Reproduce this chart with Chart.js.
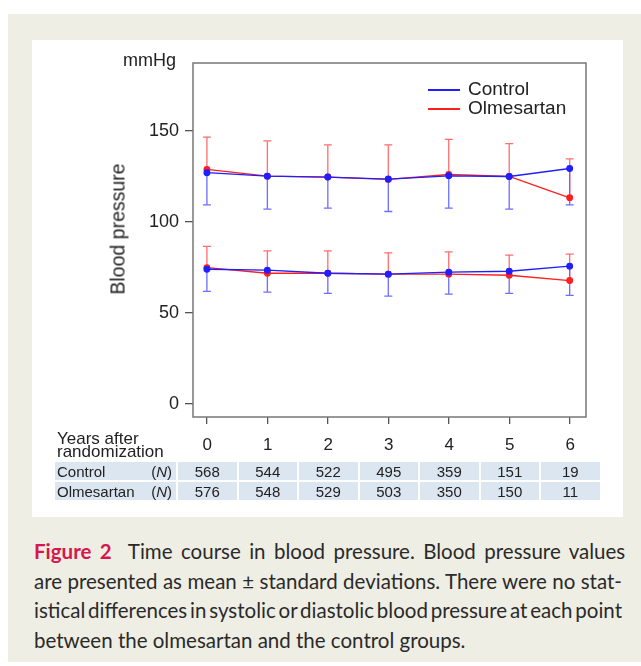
<!DOCTYPE html>
<html>
<head>
<meta charset="utf-8">
<script src="https://cdn.jsdelivr.net/npm/chart.js@4.4.1/dist/chart.umd.min.js"></script>
<style>
  body { margin: 0; background: #fff; width: 641px; height: 666px; overflow: hidden; position: relative; font-family: "Liberation Sans", Arial, sans-serif; }
  #panel { position: absolute; left: 8px; top: 14px; width: 633px; height: 648px; background: #efeee4; }
  #box { position: absolute; left: 32px; top: 40px; width: 591px; height: 477px; background: #fff; }
  #chartWrap { position: absolute; left: 32px; top: 40px; width: 591px; height: 395px; }
  .lbl { position: absolute; color: #222; white-space: nowrap; }
  #legend .row { position: absolute; left: 428px; height: 20px; }
  #legend .sw { position: absolute; left: 0; top: 9px; width: 32px; height: 2px; }
  #legend .tx { position: absolute; left: 40px; top: -2px; font-size: 19px; color: #222; }
  #ntable { position: absolute; left: 53px; top: 428px; border-collapse: separate; border-spacing: 2px; table-layout: fixed; color: #222; }
  #ntable td { padding: 0; height: 18px; font-size: 15px; text-align: center; }
  #ntable tr.d td { background: #dce6f1; }
  #ntable td.first { text-align: left; padding-left: 2px; }
  #ntable .n { float: right; padding-right: 4px; }
  #caption { position: absolute; left: 34px; top: 537px; width: 588px; font-family: Lato, "Open Sans", sans-serif; font-size: 20.5px; line-height: 29.5px; color: #2a2a2a; }
  #caption div { white-space: nowrap; }
  #caption b { color: #d6174d; font-weight: 700; }
</style>
</head>
<body>
<div id="panel"></div>
<div id="box"></div>
<div id="chartWrap"><canvas id="bpChart" width="591" height="395"></canvas></div>
<div class="lbl" style="left:123px; top:50px; font-size:18px;">mmHg</div>
<div class="lbl" style="left:118px; top:229px; font-size:19.5px; transform: translate(-50%,-50%) rotate(-90deg);">Blood pressure</div>
<div id="legend">
  <div class="row" style="top:80px;"><div class="sw" style="background:#1f1fff;"></div><div class="tx">Control</div></div>
  <div class="row" style="top:99px;"><div class="sw" style="background:#ff1f1f;"></div><div class="tx">Olmesartan</div></div>
</div>
<table id="ntable"></table>
<div id="caption">
  <div><span><b>Figure 2</b>&nbsp; Time course in blood pressure. Blood pressure values</span></div>
  <div><span>are presented as mean ± standard deviations. There were no stat-</span></div>
  <div><span>istical differences in systolic or diastolic blood pressure at each point</span></div>
  <div class="last"><span>between the olmesartan and the control groups.</span></div>
</div>
<script>
const years = [0, 1, 2, 3, 4, 5, 6];
const yTicks = [0, 50, 100, 150];

// systolic
const ctrlSys = [127.0, 125.1, 124.6, 123.5, 125.3, 124.9, 129.3];
const ctrlSysLow = [109.3, 107.0, 107.5, 105.7, 107.5, 107.0, 109.3];
const olmSys = [128.8, 125.1, 124.6, 123.3, 126.0, 124.9, 113.2];
const olmSysHigh = [146.5, 144.5, 142.3, 142.3, 145.3, 142.9, 134.6];

// diastolic
const ctrlDia = [74.0, 73.5, 71.8, 71.3, 72.4, 72.9, 75.7];
const ctrlDiaLow = [61.9, 61.4, 60.8, 59.2, 60.3, 60.8, 59.7];
const olmDia = [74.9, 71.8, 71.8, 71.3, 71.3, 70.7, 67.8];
const olmDiaHigh = [86.6, 84.1, 84.1, 83.0, 83.5, 81.7, 82.3];

// patients at risk
const nControl = [568, 544, 522, 495, 359, 151, 19];
const nOlmesartan = [576, 548, 529, 503, 350, 150, 11];

const blue = 'rgb(31, 31, 255)';
const red = 'rgb(255, 31, 31)';
const blueBar = 'rgba(60, 60, 255, 0.75)';
const redBar = 'rgba(255, 60, 60, 0.75)';

function pts(values) {
    return values.map((v, i) => ({x: years[i], y: v}));
}

function lineSet(label, values, color, ends, barColor) {
    return {
        label: label,
        data: pts(values),
        borderColor: color,
        backgroundColor: color,
        pointBackgroundColor: color,
        pointBorderColor: color,
        borderWidth: 1.3,
        pointRadius: 2.8,
        tension: 0,
        errEnds: ends,
        errColor: barColor
    };
}

// error bars: one-sided, from mean to the end value, with a small cap
const errorBars = {
    id: 'errorBars',
    beforeDatasetsDraw(chart) {
        const ctx = chart.ctx;
        const xs = chart.scales.x, ys = chart.scales.y;
        chart.data.datasets.forEach(ds => {
            ctx.save();
            ctx.strokeStyle = ds.errColor;
            ctx.lineWidth = 1.3;
            ds.data.forEach((p, i) => {
                const px = xs.getPixelForValue(p.x);
                const y0 = ys.getPixelForValue(p.y);
                const y1 = ys.getPixelForValue(ds.errEnds[i]);
                ctx.beginPath();
                ctx.moveTo(px, y0);
                ctx.lineTo(px, y1);
                ctx.moveTo(px - 4, y1);
                ctx.lineTo(px + 4, y1);
                ctx.stroke();
            });
            ctx.restore();
        });
    }
};

const frameBox = {
    id: 'frameBox',
    afterDraw(chart) {
        const a = chart.chartArea;
        const ctx = chart.ctx;
        ctx.save();
        ctx.strokeStyle = '#777';
        ctx.lineWidth = 1.5;
        ctx.strokeRect(a.left, a.top, a.right - a.left, a.bottom - a.top);
        ctx.restore();
    }
};

new Chart(document.getElementById('bpChart').getContext('2d'), {
    type: 'line',
    data: {
        datasets: [
            lineSet('Control', ctrlSys, blue, ctrlSysLow, blueBar),
            lineSet('Control', ctrlDia, blue, ctrlDiaLow, blueBar),
            lineSet('Olmesartan', olmSys, red, olmSysHigh, redBar),
            lineSet('Olmesartan', olmDia, red, olmDiaHigh, redBar)
        ]
    },
    options: {
        responsive: false,
        animation: false,
        layout: { padding: { left: 101, right: 37, top: 23, bottom: 8 } },
        plugins: {
            legend: { display: false },
            tooltip: { enabled: false }
        },
        scales: {
            x: {
                type: 'linear',
                min: -0.23,
                max: 6.27,
                afterBuildTicks: s => { s.ticks = years.map(v => ({value: v})); },
                afterFit: s => { s.height = 10; },
                ticks: { display: false },
                grid: { drawOnChartArea: false, drawTicks: true, tickLength: 7, color: '#555', lineWidth: 1.3 },
                border: { display: false }
            },
            y: {
                type: 'linear',
                min: -7.1,
                max: 187.2,
                afterBuildTicks: s => { s.ticks = yTicks.map(v => ({value: v})); },
                afterFit: s => { s.width = 60; },
                ticks: {
                    color: '#222',
                    padding: 6,
                    font: { family: '"Liberation Sans", Arial, sans-serif', size: 18 }
                },
                grid: { drawOnChartArea: false, drawTicks: true, tickLength: 8, color: '#555', lineWidth: 1.3 },
                border: { display: false }
            }
        }
    },
    plugins: [errorBars, frameBox]
});

// number-at-risk table under the x axis
function buildTable() {
    const t = document.getElementById('ntable');
    let html = '<colgroup><col style="width:121px">' + years.map(() => '<col style="width:58.5px">').join('') + '</colgroup>';
    html += '<tr style="height:30px"><td class="first" style="font-size:17px;line-height:13px;vertical-align:middle;">Years after<br>randomization</td>' +
        years.map(y => `<td style="font-size:17px;">${y}</td>`).join('') + '</tr>';
    html += '<tr class="d"><td class="first">Control<span class="n">(<i>N</i>)</span></td>' +
        nControl.map(n => `<td>${n}</td>`).join('') + '</tr>';
    html += '<tr class="d"><td class="first">Olmesartan<span class="n">(<i>N</i>)</span></td>' +
        nOlmesartan.map(n => `<td>${n}</td>`).join('') + '</tr>';
    t.innerHTML = html;
}
buildTable();

// justify caption lines by spreading the word gaps
function fitCaption() {
    const lines = document.querySelectorAll('#caption div');
    lines.forEach(div => {
        if (div.classList.contains('last')) return;
        const span = div.querySelector('span');
        const gaps = (span.textContent.match(/ /g) || []).length;
        const w = span.getBoundingClientRect().width;
        div.style.wordSpacing = ((588 - w) / gaps) + 'px';
    });
}
fitCaption();
</script>
</body>
</html>
